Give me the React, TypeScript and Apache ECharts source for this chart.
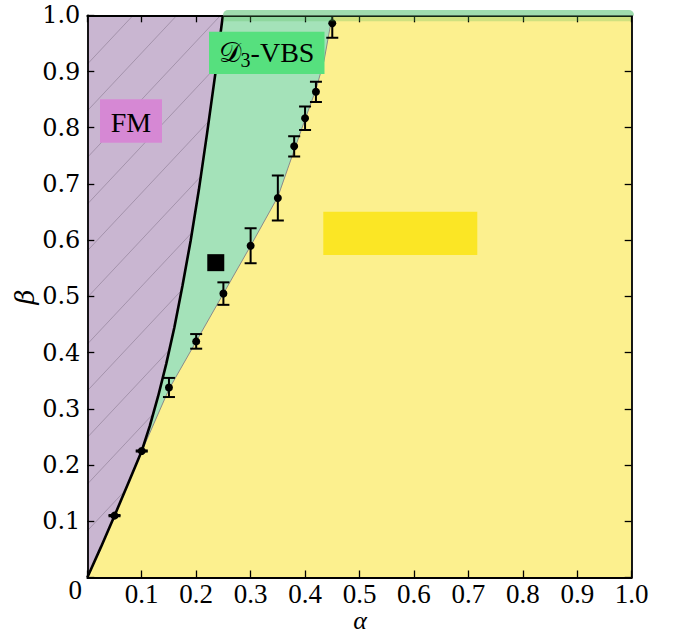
import React, { useEffect, useRef } from 'react';
import * as echarts from 'echarts';

// Phase boundaries (alpha, beta)
const fmBoundary: [number, number][] = [
  [0, 0], [0.025, 0.054], [0.05, 0.11], [0.075, 0.167], [0.095, 0.2134], [0.1, 0.225],
  [0.115, 0.27], [0.13, 0.322], [0.145, 0.38], [0.16, 0.445], [0.175, 0.52], [0.19, 0.6],
  [0.205, 0.69], [0.22, 0.79], [0.235, 0.895], [0.249, 1.0],
];
const vbsBoundary: [number, number][] = [
  [0.095, 0.2134], [0.15, 0.335], [0.2, 0.42], [0.25, 0.505], [0.3, 0.59], [0.35, 0.677],
  [0.38, 0.76], [0.4, 0.815], [0.42, 0.868], [0.435, 0.92], [0.45, 1.0],
];

// QMC transition points with error bars
const qmcAlpha = [0.05, 0.1, 0.15, 0.2, 0.25, 0.3, 0.35, 0.38, 0.4, 0.42, 0.45];
const qmcBeta = [0.11, 0.225, 0.338, 0.42, 0.505, 0.59, 0.675, 0.767, 0.817, 0.864, 0.986];
const qmcErr = [0.001, 0.001, 0.017, 0.013, 0.02, 0.031, 0.04, 0.018, 0.021, 0.018, 0.026];

const squarePoint: [number, number][] = [[0.236, 0.56]];

const SERIF = 'Liberation Serif';

export default function App() {
  const ref = useRef<HTMLDivElement>(null);
  useEffect(() => {
    if (!ref.current) return;
    const chart = echarts.init(ref.current, undefined, { renderer: 'svg' });

    const hatchSpacing = 0.083;
    const hatchSlope = 1.033;
    const hatchLines: number[] = [];
    for (let k = 0; k <= 12; k++) hatchLines.push(k * hatchSpacing);

    const branch = fmBoundary.findIndex((p) => p[0] === vbsBoundary[0][0]);
    const yellowPoly: [number, number][] = [
      ...fmBoundary.slice(0, branch),
      ...vbsBoundary,
      [1, 1], [1, 0],
    ];
    const greenPoly: [number, number][] = [...fmBoundary, [1, 1], [1, 0]];

    const fmt = (v: number) => (v === 0 ? '' : v.toFixed(1));

    const axisCommon = {
      type: 'value' as const,
      min: 0,
      max: 1,
      interval: 0.1,
      z: 10,
      splitLine: { show: false },
      axisLine: { show: true, onZero: false, lineStyle: { color: '#000', width: 1.8 } },
      axisTick: { show: true, inside: true, length: 7, lineStyle: { color: '#000', width: 1.3 } },
    };

    chart.setOption({
      animation: false,
      grid: {
        left: 87.3, right: 43.3, top: 15.3, bottom: 55.5,
        show: true, backgroundColor: '#c9b6d1', borderWidth: 0,
      },
      xAxis: [
        { ...axisCommon, position: 'bottom', axisLabel: { fontFamily: 'Liberation Serif', fontSize: 27, color: '#000', formatter: fmt, margin: 3 } },
        { ...axisCommon, position: 'top', axisLabel: { show: false } },
      ],
      yAxis: [
        { ...axisCommon, position: 'left', axisLabel: { fontFamily: 'DejaVu Serif', fontSize: 24, color: '#000', formatter: fmt, margin: 7 } },
        { ...axisCommon, position: 'right', axisLabel: { show: false } },
      ],
      series: [
        {
          type: 'custom',
          z: 1,
          silent: true,
          clip: true,
          data: hatchLines.map((b) => [0, b]),
          renderItem: (params: any, api: any) => {
            const b = api.value(1);
            let a1 = 1;
            let b1 = b + hatchSlope * a1;
            if (b1 > 1) { a1 = (1 - b) / hatchSlope; b1 = 1; }
            const p0 = api.coord([0, b]);
            const p1 = api.coord([a1, b1]);
            return {
              type: 'line',
              shape: { x1: p0[0], y1: p0[1], x2: p1[0], y2: p1[1] },
              style: { stroke: '#9a8aa2', lineWidth: 0.8 },
            };
          },
        },
        {
          type: 'custom',
          z: 2,
          silent: true,
          data: [0],
          renderItem: (params: any, api: any) => ({
            type: 'polygon',
            shape: { points: greenPoly.map((p) => api.coord(p)) },
            style: { fill: '#a4e2b9' },
          }),
        },
        {
          type: 'custom',
          z: 3,
          silent: true,
          data: [0],
          renderItem: (params: any, api: any) => ({
            type: 'polygon',
            shape: { points: yellowPoly.map((p) => api.coord(p)) },
            style: { fill: '#fcf08e' },
          }),
        },
        {
          type: 'line',
          z: 4,
          data: vbsBoundary,
          showSymbol: false,
          silent: true,
          lineStyle: { color: '#8a8a8a', width: 1 },
        },
        {
          type: 'line',
          z: 5,
          data: fmBoundary,
          showSymbol: false,
          silent: true,
          lineStyle: { color: '#000', width: 2.6 },
        },
        {
          type: 'custom',
          z: 6,
          clip: true,
          silent: true,
          data: qmcAlpha.map((a, i) => [a, qmcBeta[i] - qmcErr[i], qmcBeta[i] + qmcErr[i]]),
          renderItem: (params: any, api: any) => {
            const lo = api.coord([api.value(0), api.value(1)]);
            const hi = api.coord([api.value(0), api.value(2)]);
            const w = 6;
            const st = { stroke: '#000', lineWidth: 2 };
            return {
              type: 'group',
              children: [
                { type: 'line', shape: { x1: lo[0], y1: lo[1], x2: hi[0], y2: hi[1] }, style: st },
                { type: 'line', shape: { x1: lo[0] - w, y1: lo[1], x2: lo[0] + w, y2: lo[1] }, style: st },
                { type: 'line', shape: { x1: hi[0] - w, y1: hi[1], x2: hi[0] + w, y2: hi[1] }, style: st },
              ],
            };
          },
        },
        {
          type: 'scatter',
          z: 7,
          silent: true,
          data: qmcAlpha.map((a, i) => [a, qmcBeta[i]]),
          symbol: 'circle',
          symbolSize: 8,
          itemStyle: { color: '#000', opacity: 1 },
        },
        {
          type: 'scatter',
          z: 7,
          silent: true,
          data: squarePoint,
          symbol: 'rect',
          symbolSize: 17,
          itemStyle: { color: '#000', opacity: 1 },
        },
      ],
      graphic: [
        { type: 'rect', z: 100, shape: { x: 223, y: 10, width: 411, height: 5.5, r: [5, 5, 0, 0] }, style: { fill: '#a0dcae' } },
        { type: 'rect', z: 100, shape: { x: 223, y: 16.2, width: 408, height: 5 }, style: { fill: 'rgba(90,185,90,0.28)' } },
        { type: 'rect', z: 100, shape: { x: 100, y: 99.3, width: 62, height: 43.5 }, style: { fill: '#d688d4' } },
        { type: 'text', z: 101, x: 131, y: 122, style: { text: 'FM', font: "28px 'Liberation Serif'", fill: '#000', align: 'center', verticalAlign: 'middle' } },
        { type: 'rect', z: 100, shape: { x: 209, y: 31.7, width: 115.5, height: 42.3 }, style: { fill: '#56e07e' } },
        {
          type: 'text', z: 101, x: 266.5, y: 52,
          style: {
            text: '{d|𝒟}{s|3}{n|-VBS}',
            align: 'center', verticalAlign: 'middle',
            rich: {
              d: { fontFamily: SERIF, fontSize: 28, color: '#000', lineHeight: 30 },
              s: { fontFamily: SERIF, fontSize: 20, color: '#000', lineHeight: 19, verticalAlign: 'bottom', padding: [0, 0, -3, 0] },
              n: { fontFamily: SERIF, fontSize: 28, color: '#000', lineHeight: 30 },
            },
          },
        },
        { type: 'rect', z: 100, shape: { x: 323.3, y: 211.7, width: 154, height: 43.3 }, style: { fill: '#fbe625' } },
        { type: 'text', x: 336, y: 219, style: { text: 'mixed VBS', fontFamily: 'Liberation Serif', fontSize: 28, fill: '#000' } },
        { type: 'text', z: 101, x: 82, y: 590, style: { text: '0', fontFamily: 'Times New Roman', fontSize: 27, fill: '#000', align: 'right', verticalAlign: 'middle' } },
        { type: 'text', z: 101, x: 360, y: 620, style: { text: 'α', font: "italic 26px 'Liberation Serif'", fill: '#000', align: 'center', verticalAlign: 'middle' } },
        { type: 'text', z: 101, x: 25, y: 297, rotation: Math.PI / 2, style: { text: 'β', fontFamily: 'DejaVu Serif', fontStyle: 'italic', fontSize: 26, fill: '#000', align: 'center', verticalAlign: 'middle' } },
      ],
    });
    return () => chart.dispose();
  }, []);
  return <div ref={ref} style={{ position: 'absolute', left: 0, top: 0, width: 675, height: 633 }} />;
}
